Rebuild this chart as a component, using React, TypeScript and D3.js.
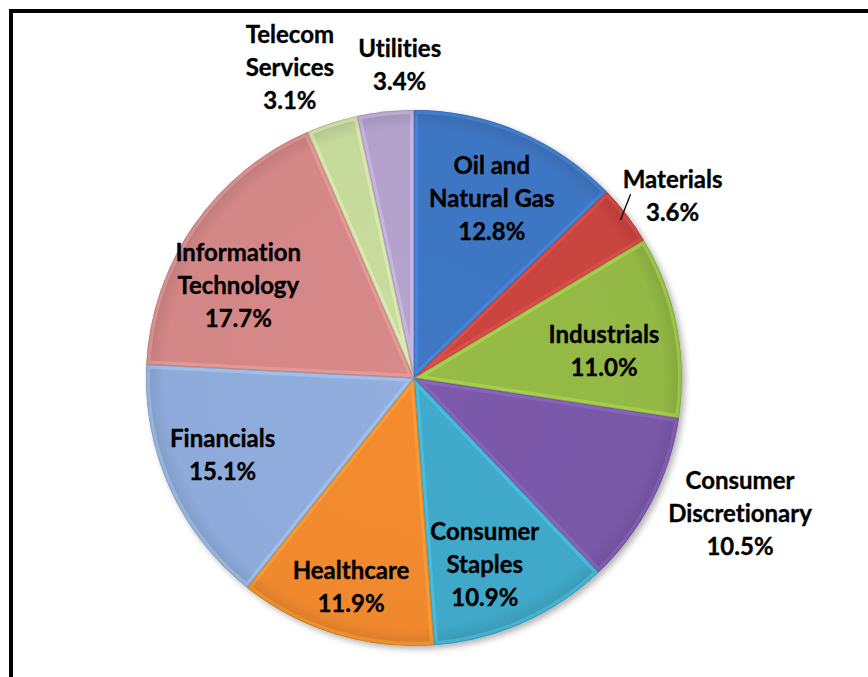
import React, { useRef, useEffect } from 'react';
import * as d3 from 'd3';

// sectors, clockwise from 12 o'clock
const sectors = [
  'Oil and|Natural Gas',
  'Materials',
  'Industrials',
  'Consumer|Discretionary',
  'Consumer|Staples',
  'Healthcare',
  'Financials',
  'Information|Technology',
  'Telecom|Services',
  'Utilities',
];
const weights = [12.8, 3.6, 11.0, 10.5, 10.9, 11.9, 15.1, 17.7, 3.1, 3.4];
const colors = [
  '#3E76C2', '#C8443F', '#93B845', '#7A58A8', '#40A8C8',
  '#F0892F', '#8EABDB', '#D48787', '#C5D99B', '#B3A1CC',
];

// label placement: [radius factor, angle nudge in degrees]
const labelPos: [number, number][] = [
  [0.73, 0.4], [1.18, 2.3], [0.716, 3.1], [1.317, -5], [0.746, 3.2],
  [0.813, -0.3], [0.77, 2.3], [0.74, -7.1], [1.246, -4], [1.17, 3.5],
];

const W = 868;
const H = 677;

export default function App() {
  const svgRef = useRef<SVGSVGElement>(null);

  useEffect(() => {
    if (!svgRef.current) return;
    const svg = d3.select(svgRef.current);
    svg.selectAll('*').remove();

    const cx = 414;
    const cy = 378;
    const r = 268;

    const defs = svg.append('defs');
    const shadow = defs.append('filter').attr('id', 'pieShadow')
      .attr('x', '-10%').attr('y', '-10%').attr('width', '120%').attr('height', '120%');
    shadow.append('feDropShadow')
      .attr('dx', 3).attr('dy', 3).attr('stdDeviation', 3)
      .attr('flood-color', '#000').attr('flood-opacity', 0.3);

    // frame
    svg.append('rect')
      .attr('x', 11).attr('y', 11)
      .attr('width', 1000).attr('height', 1000)
      .attr('fill', 'none').attr('stroke', '#000').attr('stroke-width', 4);

    const data = weights.map((v, i) => ({ name: sectors[i], value: v, color: colors[i], i }));
    const pie = d3.pie<typeof data[0]>().value(d => d.value).sort(null);
    const arcs = pie(data);
    const arc = d3.arc<d3.PieArcDatum<typeof data[0]>>().innerRadius(0).outerRadius(r);

    const g = svg.append('g').attr('transform', `translate(${cx},${cy})`);
    const slices = g.append('g').attr('filter', 'url(#pieShadow)');

    arcs.forEach((a, i) => {
      defs.append('clipPath').attr('id', `clip-${i}`)
        .append('path').attr('d', arc(a) as string);

      const grad = defs.append('radialGradient').attr('id', `grad-${i}`)
        .attr('gradientUnits', 'userSpaceOnUse')
        .attr('cx', 0).attr('cy', 0).attr('r', r);
      const base = d3.color(a.data.color)!;
      grad.append('stop').attr('offset', '0%').attr('stop-color', base.brighter(0.05).formatHex());
      grad.append('stop').attr('offset', '93%').attr('stop-color', base.formatHex());
      grad.append('stop').attr('offset', '100%').attr('stop-color', base.darker(0.3).formatHex());

      slices.append('path')
        .attr('d', arc(a) as string)
        .attr('fill', `url(#grad-${i})`);
    });

    // bevel: soft light inner rim + dark seam
    arcs.forEach((a, i) => {
      const base = d3.color(a.data.color)!;
      const clipG = g.append('g').attr('clip-path', `url(#clip-${i})`);
      clipG.append('path')
        .attr('d', arc(a) as string)
        .attr('fill', 'none')
        .attr('stroke', base.brighter(0.8).formatHex())
        .attr('stroke-opacity', 0.35)
        .attr('stroke-width', 8);
      clipG.append('path')
        .attr('d', arc(a) as string)
        .attr('fill', 'none')
        .attr('stroke', base.darker(0.8).formatHex())
        .attr('stroke-opacity', 0.55)
        .attr('stroke-width', 1.6);
    });

    // labels
    const lineH = 33;
    const labels = svg.append('g')
      .attr('font-family', 'Lato, "Open Sans", sans-serif')
      .attr('font-weight', 700)
      .attr('font-size', 24)
      .attr('fill', '#000')
      .attr('stroke', '#000')
      .attr('stroke-width', 0.35)
      .style('font-variant-ligatures', 'none')
      .attr('text-anchor', 'middle');

    arcs.forEach((a, i) => {
      const mid = (a.startAngle + a.endAngle) / 2 + (labelPos[i][1] * Math.PI) / 180;
      const rr = labelPos[i][0] * r;
      const lx = cx + rr * Math.sin(mid);
      const ly = cy - rr * Math.cos(mid);
      const lines = [...a.data.name.split('|'), `${a.data.value.toFixed(1)}%`];
      const n = lines.length;
      const t = labels.append('text');
      lines.forEach((ln, k) => {
        t.append('tspan')
          .attr('x', lx)
          .attr('y', ly + (k - (n - 1) / 2) * lineH + 8.5)
          .text(ln);
      });
    });

    // leader line for Materials
    const m = arcs[1];
    const mMid = (m.startAngle + m.endAngle) / 2;
    const p1 = [cx + (r - 8) * Math.sin(mMid), cy - (r - 8) * Math.cos(mMid)];
    const p2 = [cx + (r + 16) * Math.sin(mMid - 0.05), cy - (r + 16) * Math.cos(mMid - 0.05)];
    svg.append('line')
      .attr('x1', p1[0]).attr('y1', p1[1])
      .attr('x2', p2[0]).attr('y2', p2[1])
      .attr('stroke', '#000').attr('stroke-width', 1.3);
  }, []);

  return (
    <div style={{ position: 'absolute', left: 0, top: 0, width: W, height: H, background: '#fff' }}>
      <svg ref={svgRef} width={W} height={H} style={{ display: 'block' }} />
    </div>
  );
}
